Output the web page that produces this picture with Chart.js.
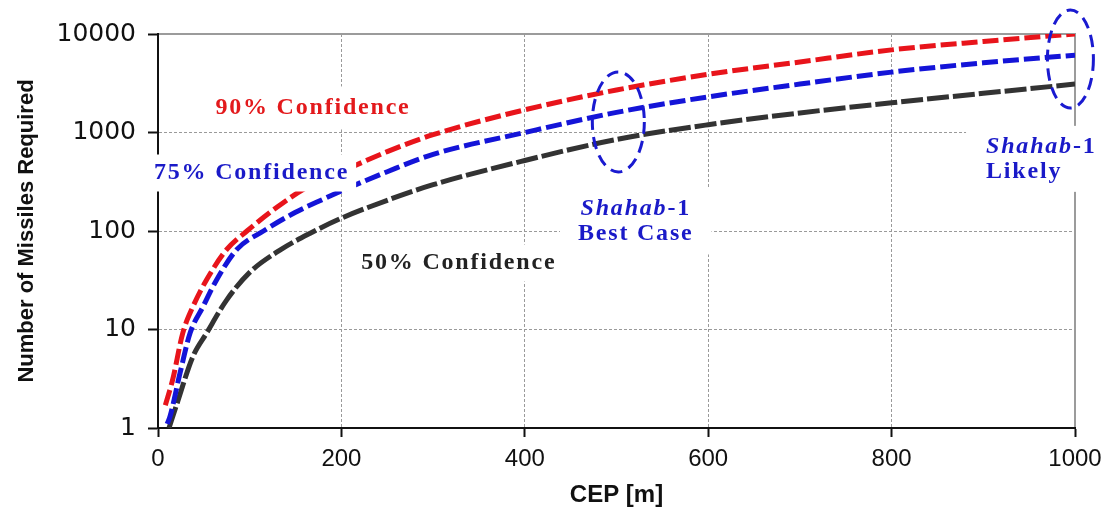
<!DOCTYPE html>
<html lang="en">
  <head>
    <meta charset="UTF-8" />
    <title>Missiles required vs CEP</title>
    <script src="https://cdn.jsdelivr.net/npm/chart.js@4.4.0/dist/chart.umd.min.js"></script>
    <style>
      html, body { margin: 0; padding: 0; background: #fff; }
      #wrap { width: 1111px; height: 514px; }
    </style>
  </head>
  <body>
    <div id="wrap"><canvas id="cep-chart"></canvas></div>
    <script>
      // values (CEP in m, missiles required)
      const cep90 = [8, 16, 27, 38, 53, 75, 97, 130, 160, 200, 250, 300, 400, 500, 600, 700, 800, 900, 1000];
      const n90 = [1.7, 3.1, 9.2, 17, 32, 65, 100, 175, 270, 400, 640, 950, 1700, 2700, 3900, 5200, 6900, 8400, 10000];

      const cep75 = [10, 13, 24, 35, 49, 64, 86, 115, 150, 180, 200, 250, 300, 400, 500, 600, 700, 800, 900, 1000];
      const n75 = [1.1, 1.3, 3.6, 9.2, 17, 32, 65, 100, 155, 210, 255, 400, 600, 1000, 1600, 2300, 3100, 4100, 5100, 6100];

      const cep50 = [12, 21, 38, 53, 75, 100, 133, 166, 200, 250, 300, 400, 500, 600, 700, 800, 900, 1000];
      const n50 = [1, 1.8, 5.3, 9.2, 20, 38, 64, 95, 135, 205, 295, 520, 850, 1200, 1580, 2000, 2500, 3100];

      const xTicks = [0, 200, 400, 600, 800, 1000];
      const yTicks = [1, 10, 100, 1000, 10000];

      const serif = "'Liberation Serif', 'Times New Roman', serif";

      // text notes, anchored in data units
      const notes = [
        { x: 169, y: 1775, color: '#e3191c', align: 'center', padX: 8, padY: 9,
          lines: [[['90% Confidence', 'bold']]] },
        { x: 102, y: 388, color: '#1a1ac8', align: 'center', padX: 7, padY: 6,
          lines: [[['75% Confidence', 'bold']]] },
        { x: 328, y: 47.3, color: '#222222', align: 'center', padX: 6, padY: 6,
          lines: [[['50% Confidence', 'bold']]] },
        { x: 521, y: 125, color: '#1a1ac8', align: 'center', padX: 18, padY: 8,
          lines: [[['Shahab', 'italic bold'], ['-1', 'bold']], [['Best Case', 'bold']]] },
        { x: 903, y: 540, color: '#1a1ac8', align: 'left', padX: 20, padY: 8,
          lines: [[['Shahab', 'italic bold'], ['-1', 'bold']], [['Likely', 'bold']]] }
      ];

      const rings = [
        { x: 502, y: 1280, rx: 26, ry: 50 },
        { x: 995, y: 5570, rx: 23, ry: 49 }
      ];

      const pts = (xs, ys) => xs.map((x, i) => ({ x: x, y: ys[i] }));

      const frame = {
        id: 'frame',
        beforeDatasetsDraw(chart) {
          const { ctx, chartArea: a } = chart;
          ctx.save();
          ctx.strokeStyle = '#9b9b9b';
          ctx.lineWidth = 2;
          ctx.beginPath();
          ctx.moveTo(a.left + 1, a.top);
          ctx.lineTo(a.right, a.top);
          ctx.lineTo(a.right, a.bottom - 1);
          ctx.stroke();
          ctx.restore();
        }
      };

      const notesPlugin = {
        id: 'notes',
        afterDatasetsDraw(chart) {
          const { ctx } = chart;
          const sx = chart.scales.x, sy = chart.scales.y;
          ctx.save();

          // dashed ellipses
          ctx.strokeStyle = '#1a1ad0';
          ctx.lineWidth = 3;
          ctx.setLineDash([12, 7]);
          rings.forEach(r => {
            ctx.beginPath();
            ctx.ellipse(sx.getPixelForValue(r.x), sy.getPixelForValue(r.y), r.rx, r.ry, 0, 0, Math.PI * 2);
            ctx.stroke();
          });
          ctx.setLineDash([]);

          ctx.letterSpacing = '1.8px';
          ctx.textBaseline = 'middle';
          const lh = 25;
          notes.forEach(n => {
            const px = sx.getPixelForValue(n.x);
            const py = sy.getPixelForValue(n.y);
            const widths = n.lines.map(parts => parts.reduce((w, p) => {
              ctx.font = p[1] + ' 24px ' + serif;
              return w + ctx.measureText(p[0]).width;
            }, 0));
            const maxW = Math.max(...widths);
            const h = n.lines.length * lh;
            const left = n.align === 'left' ? px : px - maxW / 2;
            const top = py - h / 2;
            ctx.fillStyle = '#ffffff';
            ctx.fillRect(left - n.padX, top - n.padY, maxW + 2 * n.padX, h + 2 * n.padY);
            ctx.fillStyle = n.color;
            n.lines.forEach((parts, i) => {
              let x = n.align === 'left' ? left : px - widths[i] / 2;
              const y = top + lh * i + lh / 2;
              parts.forEach(p => {
                ctx.font = p[1] + ' 24px ' + serif;
                ctx.fillText(p[0], x, y);
                x += ctx.measureText(p[0]).width;
              });
            });
          });
          ctx.restore();
        }
      };

      const lineStyle = (color, dash) => ({
        borderColor: color,
        backgroundColor: color,
        borderWidth: 5,
        borderDash: dash,
        borderCapStyle: 'butt',
        pointRadius: 0,
        cubicInterpolationMode: 'monotone',
        fill: false
      });

      const edge = (v, list) => v === list[0] || v === list[list.length - 1];

      new Chart(document.getElementById('cep-chart'), {
        type: 'line',
        data: {
          datasets: [
            Object.assign({ label: '90% Confidence', data: pts(cep90, n90) }, lineStyle('#e8141b', [16, 5])),
            Object.assign({ label: '75% Confidence', data: pts(cep75, n75) }, lineStyle('#1414d8', [16, 5])),
            Object.assign({ label: '50% Confidence', data: pts(cep50, n50) }, lineStyle('#333333', [22, 4]))
          ]
        },
        options: {
          responsive: true,
          maintainAspectRatio: false,
          animation: false,
          layout: { padding: { left: 0, right: 36, top: 34, bottom: 0 } },
          plugins: { legend: { display: false }, tooltip: { enabled: false } },
          scales: {
            x: {
              type: 'linear',
              min: 0,
              max: 1000,
              afterBuildTicks: s => { s.ticks = xTicks.map(v => ({ value: v })); },
              afterFit: s => { s.height = 86; },
              ticks: {
                callback: v => String(v),
                color: '#111',
                padding: 8,
                maxRotation: 0,
                font: { family: "'Liberation Sans', Arial, sans-serif", size: 24 }
              },
              grid: {
                color: c => edge(c.tick && c.tick.value, xTicks) ? 'rgba(0,0,0,0)' : '#9a9a9a',
                lineWidth: 1,
                tickColor: '#111',
                tickLength: 9,
                tickWidth: 2
              },
              border: { display: true, color: '#111', width: 2, dash: [3, 2] },
              title: {
                display: true,
                text: 'CEP [m]',
                color: '#111',
                padding: { top: 0, bottom: 4 },
                font: { family: "'Liberation Sans', Arial, sans-serif", size: 24, weight: 'bold' }
              }
            },
            y: {
              type: 'logarithmic',
              min: 1,
              max: 10000,
              afterBuildTicks: s => { s.ticks = yTicks.map(v => ({ value: v })); },
              afterFit: s => { s.width = 158; },
              ticks: {
                callback: v => String(v),
                color: '#111',
                padding: 12,
                font: { family: "'DejaVu Sans', sans-serif", size: 25 }
              },
              grid: {
                color: c => edge(c.tick && c.tick.value, yTicks) ? 'rgba(0,0,0,0)' : '#9a9a9a',
                lineWidth: 1,
                tickColor: '#111',
                tickLength: 10,
                tickWidth: 2
              },
              border: { display: true, color: '#111', width: 2, dash: [3, 2] },
              title: {
                display: true,
                text: 'Number of Missiles Required',
                color: '#111',
                padding: { top: 14, bottom: 0 },
                font: { family: "'Liberation Sans', Arial, sans-serif", size: 22, weight: 'bold' }
              }
            }
          }
        },
        plugins: [frame, notesPlugin]
      });
    </script>
  </body>
</html>
